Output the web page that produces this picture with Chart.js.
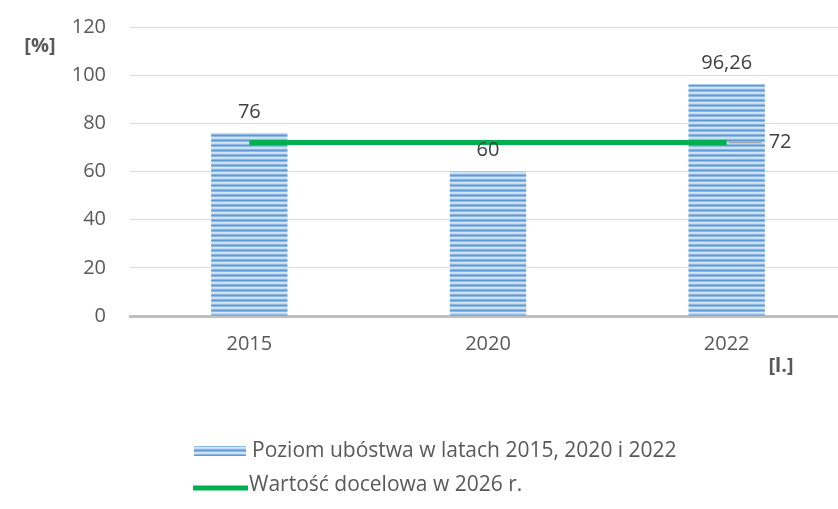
<!DOCTYPE html>
<html>
<head>
<meta charset="utf-8">
<script src="https://cdn.jsdelivr.net/npm/chart.js@4.4.0/dist/chart.umd.min.js"></script>
<style>
  html, body { margin: 0; padding: 0; background: #fff; overflow: hidden; }
  #wrap { width: 846px; height: 509px; }
</style>
</head>
<body>
<div id="wrap"><canvas id="wykres" width="846" height="509"></canvas></div>
<script>
var lata = ['2015', '2020', '2022'];
var poziomUbostwa = [76, 60, 96.26];
var wartoscDocelowa = [72, 72, 72];
var yTicks = [0, 20, 40, 60, 80, 100, 120];

var nazwaSlupkow = 'Poziom ubóstwa w latach 2015, 2020 i 2022';
var nazwaLinii = 'Wartość docelowa w 2026 r.';

var FONT = '"Open Sans", sans-serif';
var ROZM = 20;

function zrobWzor() {
    var c = document.createElement('canvas');
    c.width = 4; c.height = 5;
    var g = c.getContext('2d');
    var rows = ['#5b9bd5', '#8db8e4', '#d6e6f5', '#c3daf0', '#8db8e4'];
    rows.forEach(function (col, i) {
        g.fillStyle = col;
        g.fillRect(0, i, 4, 1);
    });
    return g.createPattern(c, 'repeat');
}

var ctx = document.getElementById('wykres').getContext('2d');
var wzor = zrobWzor();

function fmt(v) {
    return String(v).replace('.', ',');
}

var dodatki = {
    id: 'dodatki',
    afterDatasetsDraw: function (chart) {
        var g = chart.ctx;
        g.save();
        g.font = ROZM + 'px ' + FONT;
        g.fillStyle = '#404040';
        g.textAlign = 'center';
        g.textBaseline = 'middle';
        var bary = chart.getDatasetMeta(0).data;
        bary.forEach(function (b, i) {
            g.fillText(fmt(poziomUbostwa[i]), b.x, b.y - 21);
        });
        // etykieta ostatniego punktu linii
        var pkt = chart.getDatasetMeta(1).data;
        var ost = pkt[pkt.length - 1];
        g.strokeStyle = '#a6a6a6';
        g.lineWidth = 1.5;
        g.beginPath();
        g.moveTo(ost.x + 2, ost.y);
        g.lineTo(ost.x + 35, ost.y);
        g.stroke();
        g.textAlign = 'left';
        g.fillText(fmt(wartoscDocelowa[wartoscDocelowa.length - 1]), ost.x + 42, ost.y);

        // jednostki osi
        g.font = 'bold ' + ROZM + 'px ' + FONT;
        g.fillStyle = '#595959';
        g.textAlign = 'center';
        g.fillText('[%]', 40, 46);
        g.fillText('[l.]', 781, 366);

        // legenda
        g.font = '21px ' + FONT;
        g.textAlign = 'left';
        g.fillStyle = wzor;
        g.fillRect(194, 446, 52, 10);
        g.fillStyle = '#595959';
        g.fillText(nazwaSlupkow, 252, 451);
        g.strokeStyle = '#00b050';
        g.lineWidth = 5;
        g.beginPath();
        g.moveTo(193, 488);
        g.lineTo(248, 488);
        g.stroke();
        g.fillText(nazwaLinii, 249, 485);
        g.restore();
    }
};

new Chart(ctx, {
    data: {
        labels: lata,
        datasets: [{
            type: 'bar',
            label: nazwaSlupkow,
            data: poziomUbostwa,
            backgroundColor: wzor,
            borderWidth: 0,
            categoryPercentage: 1,
            barPercentage: 0.32,
            order: 2
        }, {
            type: 'line',
            label: nazwaLinii,
            data: wartoscDocelowa,
            borderColor: '#00b050',
            borderWidth: 5,
            pointRadius: 0,
            fill: false,
            order: 1
        }]
    },
    options: {
        responsive: false,
        animation: false,
        events: [],
        layout: { padding: { top: 27, right: 0, bottom: 133, left: 0 } },
        plugins: {
            legend: { display: false },
            tooltip: { enabled: false }
        },
        scales: {
            x: {
                grid: { display: false },
                border: { display: true, color: '#bfbfbf', width: 3 },
                ticks: { color: '#595959', font: { family: FONT, size: ROZM }, padding: 8 },
                afterFit: function (s) { s.height = 60; s.paddingLeft = 0; s.paddingRight = 0; }
            },
            y: {
                min: 0,
                max: 120,
                afterBuildTicks: function (s) {
                    s.ticks = yTicks.map(function (v) { return { value: v }; });
                },
                grid: { color: '#d9d9d9', lineWidth: 1, drawTicks: false },
                border: { display: false },
                ticks: { color: '#595959', font: { family: FONT, size: ROZM }, padding: 24 },
                afterFit: function (s) { s.width = 130; s.paddingTop = 0; s.paddingBottom = 0; }
            }
        }
    },
    plugins: [dodatki]
});
</script>
</body>
</html>
